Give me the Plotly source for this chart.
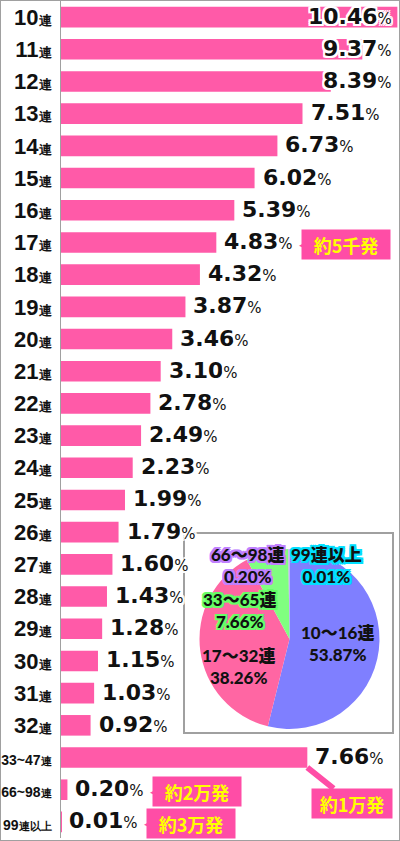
import plotly.graph_objects as go

# ---------------- data ----------------
categories = ["10連", "11連", "12連", "13連", "14連", "15連", "16連", "17連", "18連", "19連",
              "20連", "21連", "22連", "23連", "24連", "25連", "26連", "27連", "28連", "29連",
              "30連", "31連", "32連", "33~47連", "66~98連", "99連以上"]
values = [10.46, 9.37, 8.39, 7.51, 6.73, 6.02, 5.39, 4.83, 4.32, 3.87,
          3.46, 3.10, 2.78, 2.49, 2.23, 1.99, 1.79, 1.60, 1.43, 1.28,
          1.15, 1.03, 0.92, 7.66, 0.20, 0.01]

callout_cats = ["17連", "33~47連", "66~98連", "99連以上"]
callout_texts = ["約5千発", "約1万発", "約2万発", "約3万発"]

pie_labels = ["10〜16連", "17〜32連", "33〜65連", "66〜98連", "99連以上"]
pie_values = [53.87, 38.26, 7.66, 0.20, 0.01]

# ---------------- styles ----------------
W, H = 400, 841
AX_L, AX_R = 61, 398
XMAX = 10.48
BAR_COLOR = "#ff5aa8"
PINK_BOX = "#ff4da6"
GRAY = "#a0a0a0"
pie_colors = ["#7f7fff", "#ff66a3", "#80ff80", "#cc99ff", "#66eeff"]
pie_glow = [None, None, "#66ff66", "#c080ff", "#00e0ff"]
VAL_FONT = "DejaVu Sans, sans-serif"
TICK_FONT = "Liberation Sans, Arial, sans-serif"
CJK_FONT = "Noto Sans CJK JP, sans-serif"


def outline(color, w=2):
    parts = []
    for dx in (-w, 0, w):
        for dy in (-w, 0, w):
            if dx or dy:
                parts.append(f"{dx}px {dy}px 0 {color}")
    return ", ".join(parts)


def ticklabel(c):
    small = ("~" in c) or ("以上" in c)
    num_size = 14 if small else 22
    tail_size = 11 if small else 13
    if c.endswith("連以上"):
        head, tail = c[:-3], c[-3:]
    else:
        head, tail = c[:-1], c[-1:]
    return (f"<span style='font-size:{num_size}px'>{head}</span>"
            f"<span style='font-size:{tail_size}px'>{tail}</span>")


fig = go.Figure()

fig.add_trace(go.Bar(
    x=values, y=categories, orientation="h",
    marker=dict(color=BAR_COLOR, line=dict(width=0)),
    hoverinfo="skip",
))

annotations = []
val_font = dict(family=VAL_FONT, size=22, color="#111", weight=700, shadow=outline("white", 2))
# value labels
for c, v in zip(categories, values):
    txt = f"{v:.2f}<span style='font-size:15px;font-weight:400'>%</span>"
    if v > 8:
        annotations.append(dict(x=XMAX, y=c, xref="x", yref="y", text=txt, showarrow=False,
                                xanchor="right", xshift=-4, yshift=1, font=val_font))
    else:
        annotations.append(dict(x=v, y=c, xref="x", yref="y", text=txt, showarrow=False,
                                xanchor="left", xshift=6, yshift=1, font=val_font))

# callouts
cfont = dict(family=CJK_FONT, size=18, color="#ffff00", weight=700)
for c, t in zip(callout_cats, callout_texts):
    v = values[categories.index(c)]
    if c == "33~47連":
        annotations.append(dict(x=v, y=c, xref="x", yref="y", yshift=-10, ax=45, ay=36,
                                axref="pixel", ayref="pixel", text=t, showarrow=True,
                                arrowhead=0, arrowwidth=6, arrowcolor=PINK_BOX,
                                bgcolor=PINK_BOX, width=78, height=27, font=cfont))
    else:
        annotations.append(dict(x=v, y=c, xref="x", yref="y", xshift=81 + 49, yshift=-2,
                                text=t, showarrow=False, bgcolor=PINK_BOX,
                                width=86, height=27, font=cfont))
        annotations.append(dict(x=v, y=c, xref="x", yref="y", xshift=81, yshift=-2,
                                xanchor="left", text="◀", showarrow=False,
                                font=dict(family="DejaVu Sans", size=13, color=PINK_BOX)))

# pie
px_ = lambda x: x / W
py_ = lambda y: 1 - y / H
fig.add_trace(go.Pie(
    labels=pie_labels, values=pie_values, sort=False, direction="clockwise", rotation=0,
    marker=dict(colors=pie_colors, line=dict(width=0)),
    textinfo="none", hoverinfo="skip", showlegend=False,
    domain=dict(x=[px_(199), px_(380)], y=[py_(729), py_(549)]),
))

pie_label_pos = [(337, 643), (238, 666), (239, 610), (247, 565), (326, 565)]
for lab, val, glow, (lx, ly) in zip(pie_labels, pie_values, pie_glow, pie_label_pos):
    f = dict(family="Lato, Noto Sans CJK JP, sans-serif", size=17, color="#111", weight=900)
    if glow:
        f["shadow"] = outline(glow, 2)
    annotations.append(dict(x=px_(lx), y=py_(ly), xref="paper", yref="paper",
                            text=f"{lab}<br>{val:.2f}%", showarrow=False,
                            xanchor="center", yanchor="middle", font=f, align="center"))

shapes = [
    dict(type="rect", xref="paper", yref="paper", x0=px_(184), x1=px_(393), y0=py_(733), y1=py_(533),
         line=dict(color=GRAY, width=2), fillcolor="white", layer="below"),
    dict(type="rect", xref="paper", yref="paper", x0=0, x1=1, y0=0, y1=1,
         line=dict(color=GRAY, width=2), fillcolor="rgba(0,0,0,0)", layer="above"),
]

fig.update_layout(
    width=W, height=H,
    margin=dict(l=0, r=0, t=0, b=0, autoexpand=False),
    paper_bgcolor="white", plot_bgcolor="white",
    showlegend=False, bargap=0.36,
    annotations=annotations, shapes=shapes,
    xaxis=dict(domain=[AX_L / W, AX_R / W], range=[0, XMAX], visible=False,
               fixedrange=True, automargin=False),
    yaxis=dict(domain=[3 / H, 840 / H], type="category", categoryorder="array",
               categoryarray=categories, autorange="reversed", automargin=False,
               tickvals=categories, ticktext=[ticklabel(c) for c in categories],
               showline=True, linecolor=GRAY, linewidth=1, ticks="", ticklabelstandoff=4,
               showgrid=False, zeroline=False,
               tickfont=dict(family=TICK_FONT, size=22, color="#111", weight=700)),
)

fig.write_html("out.html", config={"displayModeBar": False},
               post_script="document.body.style.margin='0';document.body.style.overflow='hidden';")
